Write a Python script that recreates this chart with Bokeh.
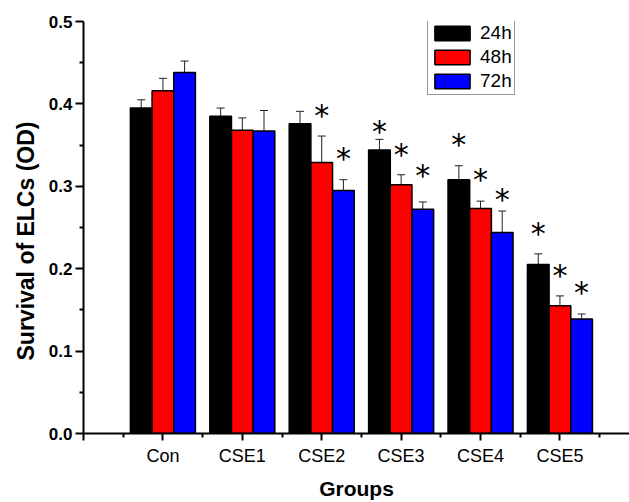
import numpy as np
import pandas as pd
from bokeh.plotting import figure
from bokeh.models import (ColumnDataSource, Range1d, FixedTicker, Whisker, TeeHead,
                          Legend, LegendItem, NumeralTickFormatter, Title)
from bokeh.core.properties import value
from bokeh.embed import file_html
from bokeh.resources import INLINE

# ---- data ----
groups = ["Con", "CSE1", "CSE2", "CSE3", "CSE4", "CSE5"]
series = ["24h", "48h", "72h"]
mean_24h = [0.395, 0.385, 0.376, 0.344, 0.308, 0.205]
mean_48h = [0.416, 0.368, 0.329, 0.302, 0.273, 0.155]
mean_72h = [0.438, 0.367, 0.295, 0.272, 0.244, 0.139]
sd_24h = [0.010, 0.010, 0.015, 0.013, 0.017, 0.013]
sd_48h = [0.015, 0.015, 0.032, 0.012, 0.009, 0.012]
sd_72h = [0.014, 0.025, 0.013, 0.009, 0.026, 0.006]
# heights of the significance asterisks (None = no asterisk)
star_24h = [None, None, None, 0.372, 0.357, 0.249]
star_48h = [None, None, 0.392, 0.345, 0.314, 0.198]
star_72h = [None, None, 0.340, 0.319, 0.290, 0.177]
y_ticks = [0.0, 0.1, 0.2, 0.3, 0.4, 0.5]
x_title = "Groups"
y_title = "Survival of ELCs (OD)"

means = [mean_24h, mean_48h, mean_72h]
sds = [sd_24h, sd_48h, sd_72h]
stars = [star_24h, star_48h, star_72h]
colors = ["#000000", "#FF0000", "#0000FF"]

BAR_W = 0.273
offsets = [-BAR_W, 0.0, BAR_W]

p = figure(width=629, height=502, output_backend="svg", toolbar_location=None,
           title=None,
           x_range=Range1d(0, 6.876), y_range=Range1d(0, 0.5),
           min_border_left=83, min_border_right=0, min_border_top=21,
           min_border_bottom=68)
p.background_fill_color = "white"
p.border_fill_color = "white"
p.outline_line_color = None
p.grid.visible = False

pos = np.arange(1, len(groups) + 1)
renderers = []
for k, name in enumerate(series):
    m = np.array(means[k])
    s = np.array(sds[k])
    df = pd.DataFrame({"x": pos + offsets[k], "top": m,
                       "upper": m + s, "lower": m - s})
    src = ColumnDataSource(df)
    r = p.vbar(x="x", top="top", bottom=0, width=BAR_W, source=src,
               fill_color=colors[k], line_color="black", line_width=1.5)
    renderers.append(r)
    w = Whisker(base="x", upper="upper", lower="lower", source=src,
                line_color="#222222", line_width=1,
                upper_head=TeeHead(size=8, line_color="#222222", line_width=1),
                lower_head=TeeHead(size=8, line_color="#222222", line_width=1))
    p.add_layout(w)
    sx = [pos[i] + offsets[k] for i, v in enumerate(stars[k]) if v is not None]
    sy = [v for v in stars[k] if v is not None]
    ssrc = ColumnDataSource(dict(x=sx, y=sy, t=["*"] * len(sx)))
    p.text(x="x", y="y", text="t", source=ssrc, text_align="center",
           text_baseline="middle", text_font=value("DejaVu Sans"),
           text_font_size="30px", text_color="black", y_offset=5)

# axes
p.xaxis.ticker = FixedTicker(ticks=list(range(0, len(groups) + 1)),
                             minor_ticks=[i + 0.5 for i in range(len(groups) + 1)])
overrides = {0: ""}
overrides.update({i + 1: g for i, g in enumerate(groups)})
p.xaxis.major_label_overrides = overrides
p.yaxis.ticker = FixedTicker(ticks=y_ticks,
                             minor_ticks=[t + 0.05 for t in y_ticks[:-1]])
p.yaxis.formatter = NumeralTickFormatter(format="0.0")

for ax in (p.xaxis[0], p.yaxis[0]):
    ax.axis_line_width = 2
    ax.major_tick_line_width = 2
    ax.minor_tick_line_width = 2
    ax.major_tick_in = 0
    ax.minor_tick_in = 0
    ax.minor_tick_out = 4
    ax.major_label_text_color = "black"
    ax.major_label_text_font = "Liberation Sans"

p.xaxis.major_tick_out = 7
p.yaxis.major_tick_out = 8
p.xaxis.major_label_text_font_size = "18px"
p.xaxis.major_label_standoff = 5
p.yaxis.major_label_text_font_size = "17px"
p.yaxis.major_label_text_font_style = "bold"
p.yaxis.major_label_standoff = 3

p.xaxis.axis_label = x_title
p.xaxis.axis_label_standoff = 8
p.xaxis.axis_label_text_font = "Liberation Sans"
p.xaxis.axis_label_text_font_style = "bold"
p.xaxis.axis_label_text_font_size = "21px"
p.xaxis.axis_label_text_color = "black"

p.add_layout(Title(text=y_title, align="left", offset=73, vertical_align="bottom",
                   standoff=14, text_font="Liberation Sans", text_font_style="bold",
                   text_font_size="23px", text_color="black"), "left")

legend = Legend(items=[LegendItem(label=n, renderers=[r]) for n, r in zip(series, renderers)],
                location=(344, 338), orientation="vertical",
                glyph_width=44, glyph_height=18, label_height=18,
                label_standoff=6, spacing=2, padding=2, margin=0,
                label_text_font="Liberation Sans", label_text_font_size="19px",
                label_text_color="black",
                border_line_color="#333333", border_line_width=1,
                background_fill_color="white", background_fill_alpha=1)
p.add_layout(legend)

open("out.html", "w").write(file_html(p, INLINE))
